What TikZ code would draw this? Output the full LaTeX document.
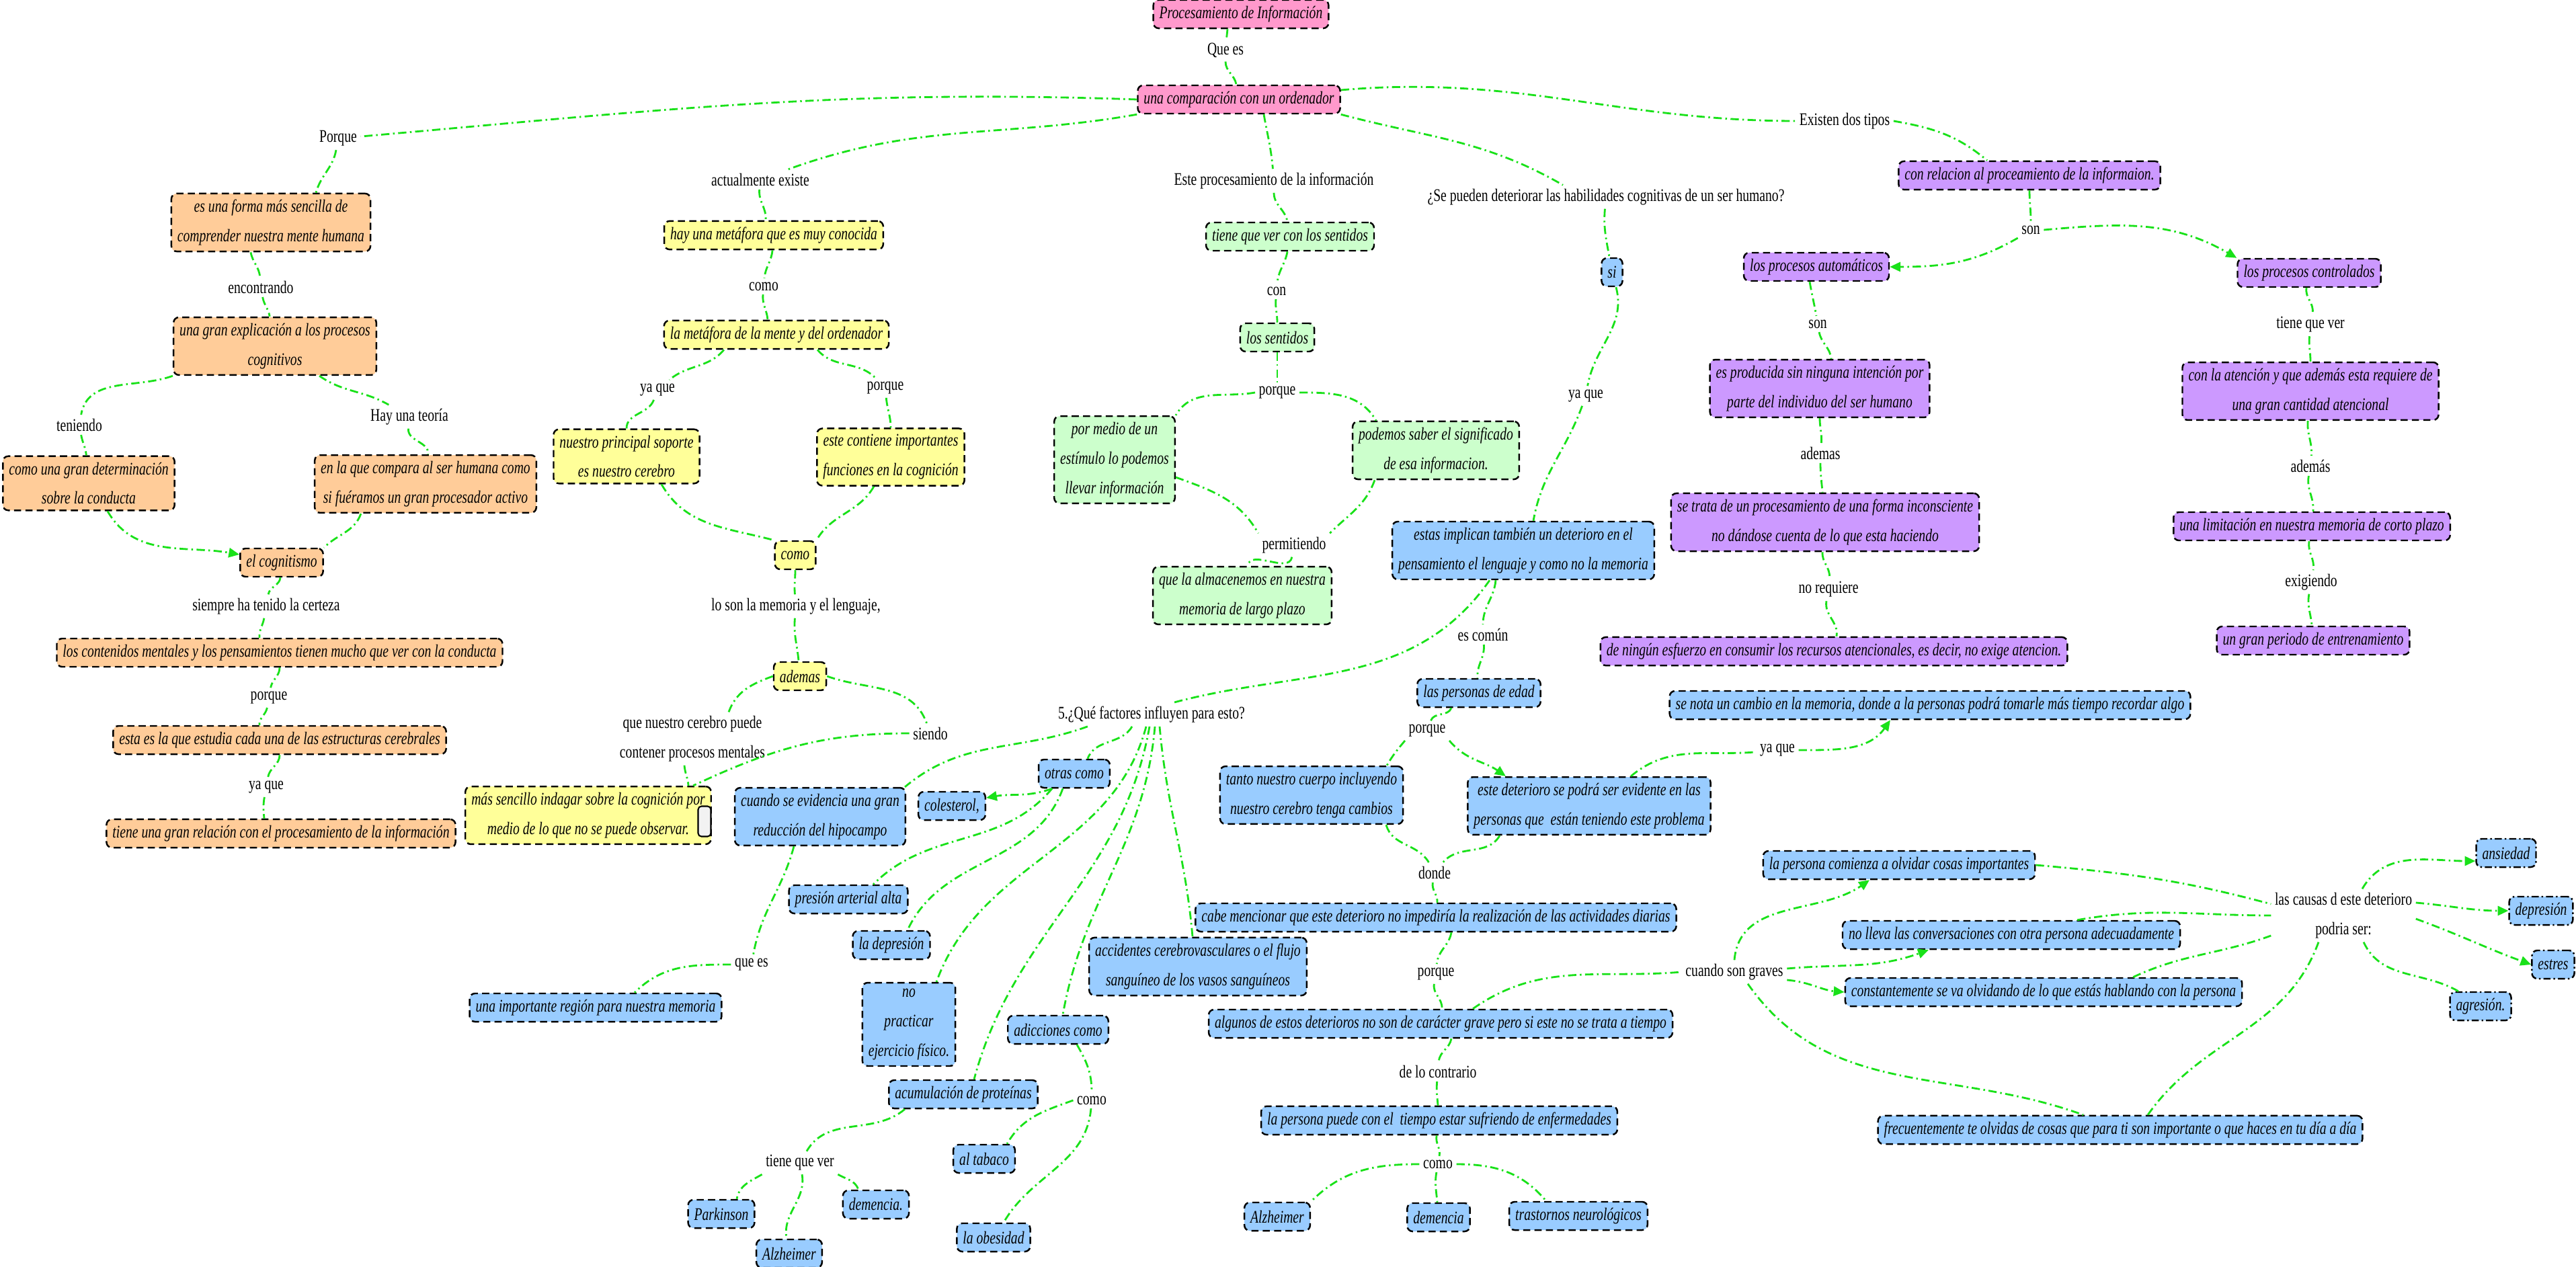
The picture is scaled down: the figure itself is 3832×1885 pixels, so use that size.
\documentclass[tikz,border=0pt]{standalone}
\usepackage{fontspec}
\setmainfont{Liberation Serif}[FakeStretch=0.745]
\usepackage{tikz}
\usetikzlibrary{arrows.meta}
\definecolor{linkgreen}{RGB}{25,225,25}
\definecolor{pinkfill}{RGB}{255,153,204}
\definecolor{orangefill}{RGB}{255,204,153}
\definecolor{yellowfill}{RGB}{255,255,153}
\definecolor{greenfill}{RGB}{204,255,204}
\definecolor{purplefill}{RGB}{204,153,255}
\definecolor{bluefill}{RGB}{153,204,255}

\begin{document}
\begin{tikzpicture}[
    x=0.01cm, y=-0.01cm,
    box/.style={draw, line width=0.7pt, dash pattern=on 3pt off 1.8pt, rounded corners=0.08cm, align=center,
        inner xsep=0.09cm, inner ysep=0.09cm, minimum height=0.42cm, font={\fontsize{7.5}{12.5}\selectfont\itshape}},
    topic/.style={box, fill=pinkfill},
    cogn/.style={box, fill=orangefill},
    meta/.style={box, fill=yellowfill},
    sens/.style={box, fill=greenfill},
    proc/.style={box, fill=purplefill},
    det/.style={box, fill=bluefill},
    detdot/.style={det, dash pattern=on 3pt off 1.2pt on 0.7pt off 1.2pt},
    tag/.style={draw, line width=0.6pt, rounded corners=0.05cm, fill=gray!10, minimum width=0.19cm, minimum height=0.45cm, inner sep=0pt},
    lbl/.style={align=center, inner sep=0.05cm, font={\fontsize{7.5}{12.5}\selectfont}},
    link/.style={draw=linkgreen, line width=0.8pt, dash pattern=on 3.5pt off 1.5pt on 0.7pt off 1.5pt},
    flecha/.style={link, -{Triangle[length=4.5pt,width=4pt]}}
]
\useasboundingbox (0,0) rectangle (3832,1885);

% Nodes
\node[topic] (titulo) at (1846,21) {Procesamiento de Información};
\node[lbl] (lQuees) at (1823,75) {Que es};
\node[topic] (comparacion) at (1843,148) {una comparación con un ordenador};

% cognitivismo
\node[lbl] (lPorque) at (503,206) {Porque};
\node[cogn] (forma) at (403,331) {es una forma más sencilla de\\comprender nuestra mente humana};
\node[lbl] (lEncontrando) at (388,427) {encontrando};
\node[cogn] (explicacion) at (409,515) {una gran explicación a los procesos\\cognitivos};
\node[lbl] (lTeniendo) at (118,632) {teniendo};
\node[lbl] (lHay) at (609,620) {Hay una teoría};
\node[cogn] (determinacion) at (132,719) {como una gran determinación\\sobre la conducta};
\node[cogn] (compara) at (633,720) {en la que compara al ser humana como\\si fuéramos un gran procesador activo};
\node[cogn] (cognitismo) at (419,837) {el cognitismo};
\node[lbl] (lSiempre) at (396,902) {siempre ha tenido la certeza};
\node[cogn] (contenidos) at (416,971) {los contenidos mentales y los pensamientos tienen mucho que ver con la conducta};
\node[lbl] (lPorqueB) at (400,1038) {porque};
\node[cogn] (estudia) at (416,1101) {esta es la que estudia cada una de las estructuras cerebrales};
\node[lbl] (lYaqueA) at (396,1171) {ya que};
\node[cogn] (relacion) at (418,1240) {tiene una gran relación con el procesamiento de la información};

% metafora
\node[lbl] (lActual) at (1131,267) {actualmente existe};
\node[meta] (metafora) at (1151,350) {hay una metáfora que es muy conocida};
\node[lbl] (lComoA) at (1136,426) {como};
\node[meta] (mente) at (1155,498) {la metáfora de la mente y del ordenador};
\node[lbl] (lYaqueB) at (978,580) {ya que};
\node[lbl] (lPorqueC) at (1317,577) {porque};
\node[meta] (soporte) at (932,679) {nuestro principal soporte\\es nuestro cerebro};
\node[meta] (funciones) at (1325,680) {este contiene importantes\\funciones en la cognición};
\node[meta] (comoBox) at (1183,826) {como};
\node[lbl] (lMemoria) at (1184,902) {lo son la memoria y el lenguaje,};
\node[meta] (ademas) at (1190,1006) {ademas};
\node[lbl] (lCerebro) at (1030,1099) {que nuestro cerebro puede\\contener procesos mentales};
\node[lbl] (lSiendo) at (1384,1091) {siendo};
\node[meta] (sencillo) at (875,1213) {más sencillo indagar sobre la cognición por\\medio de lo que no se puede observar.};
\node[tag] (marca) at (1048,1222) {};

% sentidos
\node[lbl] (lEste) at (1895,269) {Este procesamiento de la información};
\node[sens] (tiene) at (1919,352) {tiene que ver con los sentidos};
\node[lbl] (lCon) at (1899,433) {con};
\node[sens] (sentidos) at (1900,502) {los sentidos};
\node[lbl] (lPorqueD) at (1900,584) {porque};
\node[sens] (estimulo) at (1658,684) {por medio de un\\estímulo lo podemos\\llevar información};
\node[sens] (significado) at (2136,670) {podemos saber el significado\\de esa informacion.};
\node[lbl] (lPermitiendo) at (1925,811) {permitiendo};
\node[sens] (almacenemos) at (1848,886) {que la almacenemos en nuestra\\memoria de largo plazo};

% tipos de procesos
\node[lbl] (lExisten) at (2744,180) {Existen dos tipos};
\node[proc] (conrelacion) at (3019,261) {con relacion al proceamiento de la informaion.};
\node[lbl] (lSonA) at (3021,342) {son};
\node[proc] (automaticos) at (2702,397) {los procesos automáticos};
\node[proc] (controlados) at (3435,406) {los procesos controlados};
\node[lbl] (lSonB) at (2704,482) {son};
\node[proc] (intencion) at (2707,578) {es producida sin ninguna intención por\\parte del individuo del ser humano};
\node[lbl] (lAdemasA) at (2708,674) {ademas};
\node[proc] (inconsciente) at (2715,777) {se trata de un procesamiento de una forma inconsciente\\no dándose cuenta de lo que esta haciendo};
\node[lbl] (lNoreq) at (2720,877) {no requiere};
\node[proc] (esfuerzo) at (2728,969) {de ningún esfuerzo en consumir los recursos atencionales, es decir, no exige atencion.};
\node[lbl] (lTieneA) at (3437,483) {tiene que ver};
\node[proc] (atencion) at (3437,582) {con la atención y que además esta requiere de\\una gran cantidad atencional};
\node[lbl] (lAdemasB) at (3437,693) {además};
\node[proc] (limitacion) at (3439,783) {una limitación en nuestra memoria de corto plazo};
\node[lbl] (lExigiendo) at (3438,866) {exigiendo};
\node[proc] (entrenamiento) at (3441,953) {un gran periodo de entrenamiento};

% deterioro
\node[lbl] (lSe) at (2389,293) {¿Se pueden deteriorar las habilidades cognitivas de un ser humano?};
\node[det] (si) at (2398,405) {si};
\node[lbl] (lYaqueC) at (2359,589) {ya que};
\node[det] (implican) at (2266,819) {estas implican también un deterioro en el\\pensamiento el lenguaje y como no la memoria};
\node[lbl] (lComun) at (2206,944) {es común};
\node[det] (edad) at (2200,1031) {las personas de edad};
\node[lbl] (lPorqueE) at (2123,1087) {porque};
\node[det] (cambios) at (1951,1183) {tanto nuestro cuerpo incluyendo\\nuestro cerebro tenga cambios};
\node[det] (evidente) at (2364,1199) {este deterioro se podrá ser evidente en las\\personas que\ \ están teniendo este problema};
\node[lbl] (lYaqueD) at (2644,1116) {ya que};
\node[det] (cambio) at (2871,1049) {se nota un cambio en la memoria, donde a la personas podrá tomarle más tiempo recordar algo};
\node[lbl] (lDonde) at (2134,1298) {donde};
\node[det] (cabe) at (2136,1365) {cabe mencionar que este deterioro no impediría la realización de las actividades diarias};
\node[lbl] (lPorqueF) at (2136,1449) {porque};
\node[det] (grave) at (2143,1523) {algunos de estos deterioros no son de carácter grave pero si este no se trata a tiempo};
\node[lbl] (lContrario) at (2139,1594) {de lo contrario};
\node[det] (enfermedades) at (2141,1667) {la persona puede con el\ \ tiempo estar sufriendo de enfermedades};
\node[lbl] (lComoB) at (2139,1732) {como};
\node[det] (alzheimerB) at (1900,1810) {Alzheimer};
\node[det] (demenciaB) at (2140,1811) {demencia};
\node[det] (trastornos) at (2348,1809) {trastornos neurológicos};
\node[lbl] (lGraves) at (2580,1446) {cuando son graves};
\node[det] (olvidar) at (2825,1287) {la persona comienza a olvidar cosas importantes};
\node[det] (conversaciones) at (2992,1391) {no lleva las conversaciones con otra persona adecuadamente};
\node[det] (hablando) at (3040,1476) {constantemente se va olvidando de lo que estás hablando con la persona};
\node[det] (diaadia) at (3154,1681) {frecuentemente te olvidas de cosas que para ti son importante o que haces en tu día a día};
\node[lbl] (lCausas) at (3486,1362) {las causas d este deterioro\\podria ser:};
\node[detdot] (ansiedad) at (3728,1269) {ansiedad};
\node[detdot] (depresion) at (3780,1355) {depresión};
\node[detdot] (estres) at (3798,1435) {estres};
\node[detdot] (agresion) at (3690,1497) {agresión.};

% factores
\node[lbl] (lFactores) at (1713,1063) {5.¿Qué factores influyen para esto?};
\node[det] (hipocampo) at (1220,1215) {cuando se evidencia una gran\\reducción del hipocampo};
\node[det] (colesterol) at (1416,1199) {colesterol,};
\node[det] (otras) at (1598,1151) {otras como};
\node[det] (presion) at (1262,1338) {presión arterial alta};
\node[det] (depresionB) at (1326,1406) {la depresión};
\node[det] (ejercicio) at (1352,1524) {no\\practicar\\ejercicio físico.};
\node[det] (adicciones) at (1574,1532) {adicciones como};
\node[det] (proteinas) at (1433,1628) {acumulación de proteínas};
\node[det] (accidentes) at (1782,1438) {accidentes cerebrovasculares o el flujo\\sanguíneo de los vasos sanguíneos};
\node[lbl] (lQueesB) at (1118,1435) {que es};
\node[det] (region) at (886,1499) {una importante región para nuestra memoria};
\node[lbl] (lTieneB) at (1190,1730) {tiene que ver};
\node[det] (parkinson) at (1073,1806) {Parkinson};
\node[det] (alzheimerA) at (1174,1865) {Alzheimer};
\node[det] (demenciaA) at (1303,1792) {demencia.};
\node[lbl] (lComoC) at (1624,1637) {como};
\node[det] (tabaco) at (1464,1724) {al tabaco};
\node[det] (obesidad) at (1478,1841) {la obesidad};

% Arrows
\draw[link] ([xshift=-0.2cm]titulo.south) to[out=-95,in=85] (lQuees);
\draw[link] (lQuees) to[out=-90,in=100] (comparacion);

\draw[link] (comparacion.west) to[out=178,in=5] (lPorque);
\draw[link] (lPorque) to[out=-100,in=75] ([xshift=0.67cm]forma.north);
\draw[link] ([xshift=-0.3cm]forma.south) to[out=-80,in=95] (lEncontrando);
\draw[link] (lEncontrando) to[out=-80,in=100] (explicacion);
\draw[link] (explicacion.south west) to[out=200,in=80] (lTeniendo);
\draw[link] (lTeniendo) to[out=-80,in=95] (determinacion);
\draw[link] ([xshift=0.66cm]explicacion.south) to[out=-35,in=150] (lHay);
\draw[link] (lHay) to[out=-95,in=85] (compara);
\draw[flecha] ([xshift=0.28cm]determinacion.south) to[out=-60,in=170] ([yshift=0.12cm]cognitismo.west);
\draw[link] ([xshift=-0.96cm]compara.south) to[out=-110,in=45] (cognitismo.north east);
\draw[link] (cognitismo) to[out=-95,in=80] (lSiempre);
\draw[link] (lSiempre) to[out=-100,in=95] ([xshift=-0.3cm]contenidos.north);
\draw[link] (contenidos) to[out=-90,in=80] (lPorqueB);
\draw[link] (lPorqueB) to[out=-100,in=95] ([xshift=-0.3cm]estudia.north);
\draw[link] (estudia) to[out=-90,in=80] (lYaqueA);
\draw[link] (lYaqueA) to[out=-100,in=95] ([xshift=-0.25cm]relacion.north);

\draw[link] (comparacion.south west) to[out=190,in=20] (lActual);
\draw[link] (lActual) to[out=-95,in=85] ([xshift=-0.12cm]metafora.north);
\draw[link] (metafora) to[out=-95,in=85] (lComoA);
\draw[link] (lComoA) to[out=-95,in=95] ([xshift=-0.13cm]mente.north);
\draw[link] ([xshift=-0.78cm]mente.south) to[out=-130,in=40] (lYaqueB);
\draw[link] (lYaqueB) to[out=-110,in=90] (soporte);
\draw[link] ([xshift=0.61cm]mente.south) to[out=-50,in=135] (lPorqueC);
\draw[link] (lPorqueC) to[out=-85,in=90] (funciones);
\draw[link] ([xshift=0.52cm]soporte.south) to[out=-60,in=165] (comoBox.north west);
\draw[link] ([xshift=-0.25cm]funciones.south) to[out=-120,in=60] (comoBox.north east);
\draw[link] (comoBox) to[out=-90,in=95] (lMemoria);
\draw[link] (lMemoria) to[out=-95,in=95] (ademas);
\draw[link] (ademas.west) to[out=200,in=70] ([xshift=0.54cm]lCerebro.north);
\draw[link] (ademas.east) to[out=-20,in=110] (lSiendo);
\draw[link] ([xshift=-0.12cm]lCerebro.south) to[out=-85,in=95] ([xshift=1.49cm]sencillo.north);
\draw[link] (lSiendo.west) to[out=180,in=25] ([xshift=1.56cm]sencillo.north);

\draw[link] ([xshift=0.37cm]comparacion.south) to[out=-80,in=95] (lEste);
\draw[link] (lEste) to[out=-90,in=100] (tiene);
\draw[link] (tiene) to[out=-100,in=85] (lCon);
\draw[link] (lCon) to[out=-95,in=90] (sentidos);
\draw[link] (sentidos) to[out=-90,in=90] (lPorqueD);
\draw[link] (lPorqueD.west) to[out=190,in=60] (estimulo.north east);
\draw[link] (lPorqueD.east) to[out=0,in=120] ([xshift=-0.89cm]significado.north);
\draw[link] ([yshift=-0.26cm]estimulo.east) to[out=-20,in=120] (lPermitiendo.north west);
\draw[link] ([xshift=-0.91cm]significado.south) to[out=-110,in=45] (lPermitiendo.north east);
\draw[link] (lPermitiendo) to[out=-100,in=80] (almacenemos);

\draw[link] ([yshift=0.14cm]comparacion.east) to[out=5,in=180] (lExisten);
\draw[link] (lExisten.east) to[out=-10,in=140] ([xshift=-0.63cm]conrelacion.north);
\draw[link] (conrelacion) to[out=-90,in=90] (lSonA);
\draw[flecha] (lSonA.south west) to[out=-150,in=0] (automaticos.east);
\draw[flecha] (lSonA.east) to[out=5,in=150] (controlados.north west);
\draw[link] ([xshift=-0.1cm]automaticos.south) to[out=-80,in=100] (lSonB);
\draw[link] (lSonB) to[out=-80,in=95] ([xshift=0.17cm]intencion.north);
\draw[link] (intencion) to[out=-90,in=85] (lAdemasA);
\draw[link] (lAdemasA) to[out=-90,in=95] (inconsciente);
\draw[link] (inconsciente) to[out=-95,in=85] (lNoreq);
\draw[link] (lNoreq) to[out=-100,in=80] (esfuerzo);
\draw[link] (controlados) to[out=-100,in=80] (lTieneA);
\draw[link] (lTieneA) to[out=-95,in=90] (atencion);
\draw[link] (atencion) to[out=-95,in=85] (lAdemasB);
\draw[link] (lAdemasB) to[out=-100,in=85] (limitacion);
\draw[link] (limitacion) to[out=-100,in=80] (lExigiendo);
\draw[link] (lExigiendo) to[out=-100,in=95] (entrenamiento);

\draw[link] (comparacion.south east) to[out=-15,in=150] ([xshift=-0.64cm]lSe.north);
\draw[link] (lSe) to[out=-95,in=100] (si);
\draw[link] (si) to[out=-75,in=80] (lYaqueC);
\draw[link] (lYaqueC) to[out=-110,in=80] ([xshift=0.15cm]implican.north);
\draw[link] ([xshift=-0.41cm]implican.south) to[out=-95,in=90] (lComun);
\draw[link] (lComun) to[out=-85,in=95] (edad);
\draw[link] ([xshift=-0.41cm]edad.south) to[out=-110,in=70] (lPorqueE);
\draw[link] (lPorqueE.south west) to[out=-130,in=60] ([xshift=1.12cm]cambios.north);
\draw[flecha] (lPorqueE.south east) to[out=-50,in=145] ([xshift=-1.24cm]evidente.north);
\draw[link] ([xshift=0.62cm]evidente.north) to[out=40,in=185] (lYaqueD);
\draw[flecha] (lYaqueD.east) to[out=0,in=-125] ([xshift=-0.59cm]cambio.south);
\draw[link] ([xshift=1.11cm]cambios.south) to[out=-75,in=120] (lDonde);
\draw[link] ([xshift=-1.33cm]evidente.south) to[out=-120,in=50] (lDonde);
\draw[link] (lDonde) to[out=-100,in=85] (cabe);
\draw[link] ([xshift=0.23cm]cabe.south) to[out=-100,in=85] (lPorqueF);
\draw[link] (lPorqueF) to[out=-100,in=85] (grave);
\draw[link] ([xshift=0.16cm]grave.south) to[out=-100,in=85] (lContrario);
\draw[link] (lContrario) to[out=-95,in=95] (enfermedades);
\draw[link] (enfermedades) to[out=-100,in=80] (lComoB);
\draw[link] (lComoB.west) to[out=180,in=45] (alzheimerB.north east);
\draw[link] (lComoB) to[out=-100,in=95] (demenciaB);
\draw[link] (lComoB.east) to[out=0,in=130] ([xshift=-0.48cm]trastornos.north);
\draw[link] ([xshift=0.48cm]grave.north) to[out=35,in=185] (lGraves.west);
\draw[flecha] (lGraves.north) to[out=85,in=-145] ([xshift=-0.44cm]olvidar.south);
\draw[flecha] ([yshift=0.05cm]lGraves.east) to[out=5,in=-160] ([xshift=-1.23cm]conversaciones.south);
\draw[flecha] ([yshift=-0.12cm]lGraves.east) to[out=-5,in=175] (hablando.west);
\draw[link] ([xshift=0.2cm]lGraves.south) to[out=-55,in=160] ([xshift=-0.55cm]diaadia.north);
\draw[link] (olvidar.east) to[out=-5,in=165] ([yshift=0.17cm]lCausas.west);
\draw[link] ([xshift=0.98cm]conversaciones.north) to[out=10,in=180] (lCausas.west);
\draw[link] ([xshift=1.33cm]hablando.north) to[out=25,in=200] ([yshift=-0.3cm]lCausas.west);
\draw[link] ([xshift=0.41cm]diaadia.north) to[out=55,in=-110] ([xshift=-0.37cm]lCausas.south);
\draw[flecha] ([xshift=0.28cm]lCausas.north) to[out=60,in=180] ([yshift=-0.12cm]ansiedad.west);
\draw[flecha] ([yshift=0.19cm]lCausas.east) to[out=-5,in=180] (depresion.west);
\draw[flecha] ([yshift=-0.05cm]lCausas.east) to[out=-20,in=160] (estres.west);
\draw[link] ([xshift=0.3cm]lCausas.south) to[out=-65,in=150] ([xshift=-0.33cm]agresion.north);

\draw[link] ([xshift=-0.5cm]implican.south) to[out=-125,in=15] ([xshift=0.33cm]lFactores.north);
\draw[link] ([xshift=-0.95cm]lFactores.south) to[out=-160,in=40] ([xshift=1.26cm]hipocampo.north);
\draw[link] ([xshift=-0.29cm]lFactores.south) to[out=-120,in=70] ([xshift=0.2cm]otras.north);
\draw[flecha] ([xshift=-0.33cm]otras.south) to[out=200,in=10] ([yshift=0.12cm]colesterol.east);
\draw[link] ([xshift=-0.33cm]otras.south) to[out=-130,in=45] ([xshift=0.37cm]presion.north);
\draw[link] ([xshift=-0.17cm]otras.south) to[out=-110,in=65] ([xshift=0.24cm]depresionB.north);
\draw[link] ([xshift=-0.08cm]lFactores.south) to[out=-105,in=70] ([xshift=0.41cm]ejercicio.north);
\draw[link] ([xshift=-0.03cm]lFactores.south) to[out=-100,in=75] ([xshift=0.16cm]proteinas.north);
\draw[link] ([xshift=0.05cm]lFactores.south) to[out=-95,in=80] ([xshift=0.07cm]adicciones.north);
\draw[link] ([xshift=0.12cm]lFactores.south) to[out=-85,in=95] ([xshift=-0.08cm]accidentes.north);
\draw[link] ([xshift=-0.39cm]hipocampo.south) to[out=-105,in=80] (lQueesB);
\draw[link] (lQueesB.west) to[out=180,in=45] ([xshift=0.58cm]region.north);
\draw[link] ([xshift=-0.87cm]proteinas.south) to[out=-140,in=60] (lTieneB);
\draw[link] (lTieneB.south west) to[out=-150,in=80] ([xshift=0.23cm]parkinson.north);
\draw[link] (lTieneB) to[out=-80,in=100] (alzheimerA);
\draw[link] (lTieneB.south east) to[out=-30,in=110] ([xshift=-0.26cm]demenciaA.north);
\draw[link] ([xshift=0.28cm]adicciones.south) to[out=-60,in=90] (lComoC);
\draw[link] (lComoC.west) to[out=200,in=60] ([xshift=0.34cm]tabaco.north);
\draw[link] (lComoC) to[out=-95,in=60] ([xshift=0.15cm]obesidad.north);
\end{tikzpicture}
\end{document}
